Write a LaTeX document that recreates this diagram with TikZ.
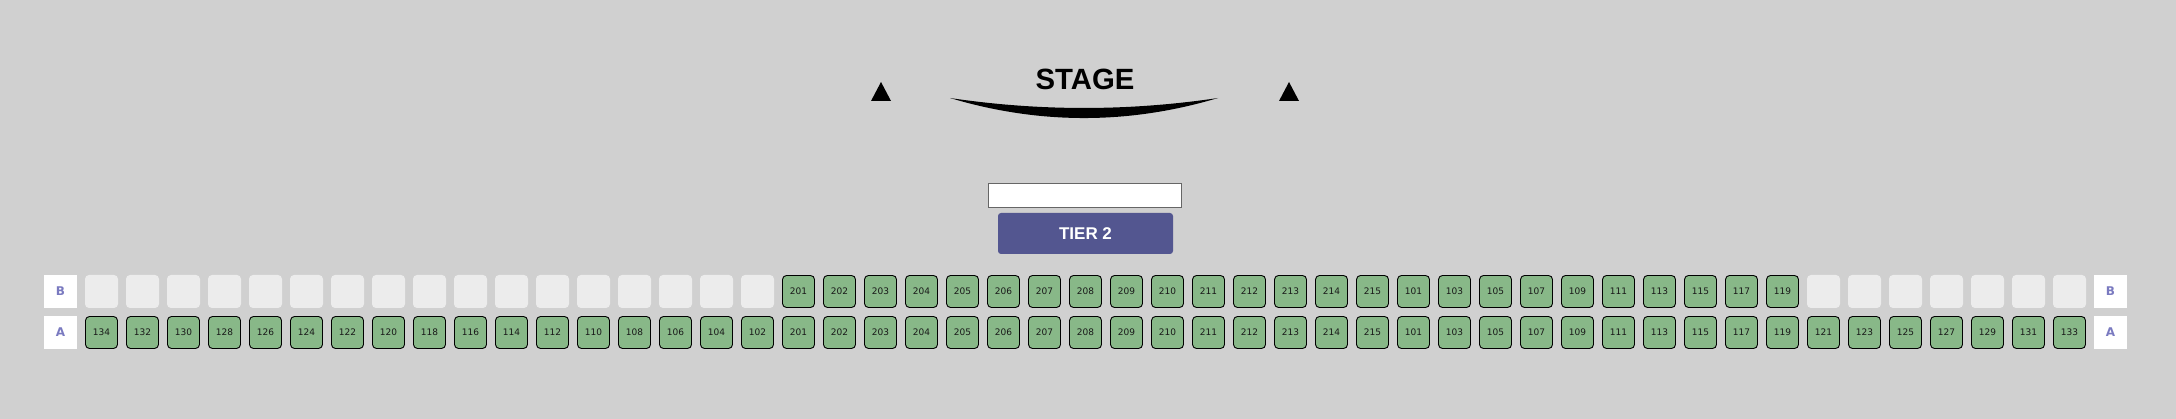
\documentclass[tikz,border=0pt]{standalone}
\usepackage{fontspec}
\setmainfont{Liberation Sans}
\newfontfamily\seatfont{DejaVu Sans}
\definecolor{bgc}{HTML}{D0D0D0}
\definecolor{seatgreen}{HTML}{88B888}
\definecolor{emptyc}{HTML}{ECECEC}
\definecolor{tierc}{HTML}{535690}
\definecolor{rowlab}{HTML}{7A7AC0}
\tikzset{
  seat/.style={draw=black, line width=0.9pt, fill=seatgreen, rounded corners=4pt, minimum width=32pt, minimum height=32pt, inner sep=0pt, outer sep=0pt, font=\seatfont\fontsize{9}{10}\selectfont, text=black!90},
  emptyseat/.style={fill=emptyc, rounded corners=4pt, minimum width=33pt, minimum height=33pt, inner sep=0pt, outer sep=0pt},
  rowlabel/.style={fill=white, minimum width=33pt, minimum height=33pt, inner sep=0pt, outer sep=0pt, text=rowlab, font=\seatfont\bfseries\fontsize{12}{13}\selectfont},
  tri/.style={fill=black}
}
\begin{document}
\begin{tikzpicture}[x=1pt,y=-1pt]
\fill[bgc] (0,0) rectangle (2176,419);
\useasboundingbox (0,0) rectangle (2176,419);
% stage
\node[font=\bfseries\fontsize{29.3}{30}\selectfont, inner sep=0pt, anchor=base] (stage) at (1085,90) {STAGE};
\fill[black] (950,98) .. controls (1039.3,124.7) and (1128.7,124.7) .. (1218,98) .. controls (1128.7,111.3) and (1039.3,111.3) .. (950,98) -- cycle;
\fill[tri] (871,101) -- (891,101) -- (881,82) -- cycle;
\fill[tri] (1279,101) -- (1299,101) -- (1289,82) -- cycle;
% boxes
\node[draw=black!60, fill=white, line width=0.8pt, minimum width=193pt, minimum height=24pt, inner sep=0pt] (blank) at (1085,195) {};
\node[fill=tierc, rounded corners=3pt, minimum width=175pt, minimum height=41pt, inner sep=0pt, text=white, font=\bfseries\fontsize{17}{18}\selectfont] (tier) at (1085.5,233.5) {TIER 2};
% row labels
\node[rowlabel] (Bl) at (60.5,291.5) {B};
\node[rowlabel] (Al) at (60.5,332.5) {A};
\node[rowlabel] (Br) at (2110.5,291.5) {B};
\node[rowlabel] (Ar) at (2110.5,332.5) {A};
% seats
\foreach \i in {1,...,17} {
  \pgfmathtruncatemacro\n{136-2*\i}
  \node[emptyseat] (B\i) at ({60.5+41*\i},291.5) {};
  \node[seat] (A\i) at ({60.5+41*\i},332.5) {\n};
}
\foreach \i in {18,...,32} {
  \pgfmathtruncatemacro\n{183+\i}
  \node[seat] (B\i) at ({60.5+41*\i},291.5) {\n};
  \node[seat] (A\i) at ({60.5+41*\i},332.5) {\n};
}
\foreach \i in {33,...,42} {
  \pgfmathtruncatemacro\n{101+2*(\i-33)}
  \node[seat] (B\i) at ({60.5+41*\i},291.5) {\n};
  \node[seat] (A\i) at ({60.5+41*\i},332.5) {\n};
}
\foreach \i in {43,...,49} {
  \pgfmathtruncatemacro\n{121+2*(\i-43)}
  \node[emptyseat] (B\i) at ({60.5+41*\i},291.5) {};
  \node[seat] (A\i) at ({60.5+41*\i},332.5) {\n};
}
\end{tikzpicture}
\end{document}
